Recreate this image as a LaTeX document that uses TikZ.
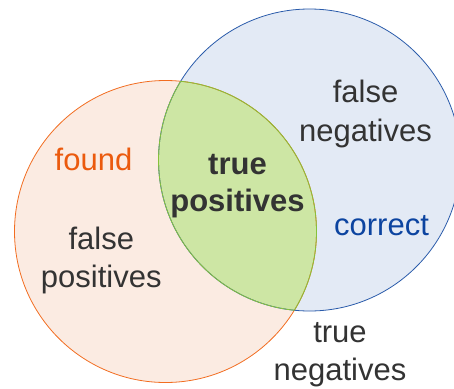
\documentclass[tikz,border=0pt]{standalone}
\usepackage{fontspec}
\setmainfont{Liberation Sans}
\definecolor{orline}{HTML}{F26D21}
\definecolor{orfill}{HTML}{FBEBE2}
\definecolor{blline}{HTML}{2B5CAB}
\definecolor{blfill}{HTML}{E3EAF5}
\definecolor{grline}{HTML}{86C13B}
\definecolor{grfill}{HTML}{CDE6A4}
\definecolor{txt}{HTML}{333333}
\definecolor{foundc}{HTML}{EB5A0E}
\definecolor{correctc}{HTML}{0C44A0}
\begin{document}
\begin{tikzpicture}[x=1pt,y=-1pt,
  lbl/.style={inner sep=0pt, align=center, anchor=base, text=txt,
    font=\fontsize{31}{37.5}\selectfont},
  ring/.style={line width=0.8pt}]
\useasboundingbox (0,0) rectangle (454,388);
\coordinate (oc) at (165.5,231.5);
\coordinate (bc) at (309.5,160);
\fill[orfill] (oc) circle[radius=151pt];
\fill[blfill] (bc) circle[radius=151pt];
\begin{scope}
  \clip (oc) circle[radius=151pt];
  \fill[grfill] (bc) circle[radius=151pt];
\end{scope}
\draw[ring, orline] (oc) circle[radius=151pt];
\draw[ring, blline] (bc) circle[radius=151pt];
\begin{scope}
  \clip (bc) circle[radius=151pt];
  \draw[ring, grline] (oc) circle[radius=151pt];
\end{scope}
\begin{scope}
  \clip (oc) circle[radius=151pt];
  \draw[ring, grline] (bc) circle[radius=151pt];
\end{scope}
\node[lbl, font=\fontsize{31}{39.5}\selectfont] (fn) at (365.5,141.5) {false\\negatives};
\node[lbl, text=foundc] (found) at (93.5,170) {found};
\node[lbl, font=\fontsize{31}{37}\selectfont\bfseries] (tp) at (237.5,211.7) {true\\positives};
\node[lbl, text=correctc] (correct) at (381.5,235) {correct};
\node[lbl] (fp) at (101.3,287) {false\\positives};
\node[lbl] (tn) at (340,380) {true\\negatives};
\end{tikzpicture}
\end{document}
